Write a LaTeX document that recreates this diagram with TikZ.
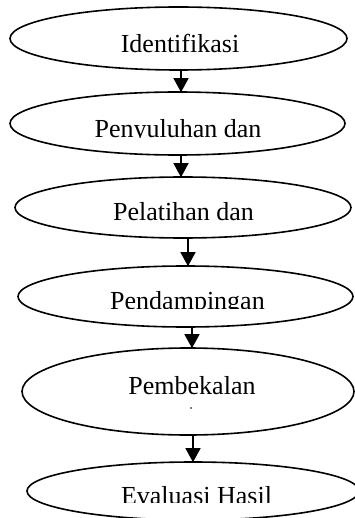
\documentclass[tikz,border=0pt]{standalone}
\usepackage{fontspec}
\setmainfont{Liberation Serif}
\usetikzlibrary{shapes.geometric,arrows.meta}
\tikzset{
  oval/.style={draw=black, line width=1.6pt, ellipse, inner sep=0pt},
  lbl/.style={anchor=base, inner sep=0pt, font=\fontsize{26pt}{30pt}\selectfont},
  arr/.style={line width=1.4pt, -{Triangle[length=14pt,width=15pt]}, shorten >=-1pt}
}
\begin{document}
\begin{tikzpicture}[x=1pt,y=-1pt]
\useasboundingbox[fill=white] (0,0) rectangle (354,518);
% ellipses
\node[oval, minimum width=337pt, minimum height=63pt] (e1) at (178.5,38.5) {};
\node[oval, minimum width=335pt, minimum height=63pt] (e2) at (177.5,123.5) {};
\node[oval, minimum width=336pt, minimum height=61pt] (e3) at (183,207.5) {};
\node[oval, minimum width=335pt, minimum height=61pt] (e4) at (185.5,296.5) {};
\node[oval, minimum width=332pt, minimum height=87pt] (e5) at (188,391.5) {};
\node[oval, minimum width=332pt, minimum height=58pt] (e6) at (193,491) {};
% labels
\node[lbl] (t1) at (180,53) {Identifikasi};
\begin{scope}
\clip (0,100) rectangle (354,137.5);
\node[lbl] (t2) at (178,138) {Penyuluhan dan};
\end{scope}
\node[lbl] (t3) at (183.5,221) {Pelatihan dan};
\begin{scope}
\clip (0,270) rectangle (354,308.5);
\node[lbl] (t4) at (187.5,309) {Pendampingan};
\end{scope}
\node[lbl] (t5) at (192,394) {Pembekalan};
\node[circle, fill=black, inner sep=0pt, minimum size=1.6pt] (d5) at (191,408) {};
\begin{scope}
\clip (0,470) rectangle (354,502.5);
\node[lbl] (t6) at (196.5,504) {Evaluasi Hasil};
\end{scope}
% arrows
\draw[arr] ([xshift=2.5pt]e1.south) -- ([xshift=3.5pt]e2.north);
\draw[arr] ([xshift=3.5pt]e2.south) -- ([xshift=3.5pt]e2.south |- e3.north);
\draw[arr] ([xshift=5pt]e3.south) -- ([xshift=5pt]e3.south |- e4.north);
\draw[arr] ([xshift=6.5pt]e4.south) -- ([xshift=6.5pt]e4.south |- e5.north);
\draw[arr] ([xshift=5pt]e5.south) -- ([xshift=5pt]e5.south |- e6.north);
\end{tikzpicture}
\end{document}
